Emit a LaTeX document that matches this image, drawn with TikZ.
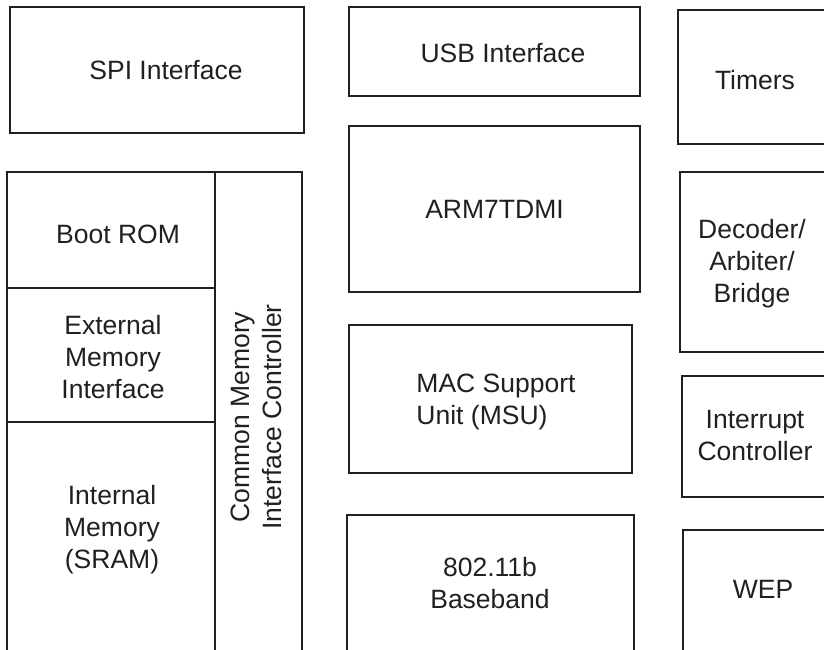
\documentclass[tikz,border=0pt]{standalone}
\usepackage{fontspec}
\setmainfont{Liberation Sans}
\definecolor{ink}{HTML}{231F20}
\tikzstyle{blk}=[draw=ink, line width=2.5pt, rectangle, inner sep=0pt]
\tikzstyle{txt}=[text=ink, align=center, inner sep=0pt, font=\fontsize{26.5}{32}\selectfont]

\begin{document}
\begin{tikzpicture}[x=1pt, y=-1pt]
    \useasboundingbox (0,0) rectangle (824,649);
    \clip (0,0) rectangle (824,649);
    % boxes
    \node   [blk, minimum width=294, minimum height=126]    (spi)  at (157,70)     {};
    \node   [blk, minimum width=291, minimum height=89]     (usb)  at (494.5,51.5) {};
    \node   [blk, minimum width=182, minimum height=134]    (tim)  at (769,77)     {};
    \node   [blk, minimum width=291, minimum height=166]    (arm)  at (494.5,209)  {};
    \node   [blk, minimum width=283, minimum height=148]    (msu)  at (490.5,399)  {};
    \node   [blk, minimum width=287, minimum height=185]    (bb)   at (490.5,607.5) {};
    \node   [blk, minimum width=208, minimum height=116]    (rom)  at (111,230)    {};
    \node   [blk, minimum width=208, minimum height=134]    (emi)  at (111,355)    {};
    \node   [blk, minimum width=208, minimum height=278]    (sram) at (111,561)    {};
    \node   [blk, minimum width=87,  minimum height=528]    (cmic) at (258.5,436)  {};
    \node   [blk, minimum width=180, minimum height=180]    (dab)  at (770,262)    {};
    \node   [blk, minimum width=178, minimum height=121]    (irq)  at (771,436.5)  {};
    \node   [blk, minimum width=177, minimum height=170]    (wep)  at (771.5,615)  {};
    % labels
    \node   [txt]   at ([xshift=9]spi.center)       {SPI Interface};
    \node   [txt]   at ([xshift=8.5,yshift=-1.5]usb.center) {USB Interface};
    \node   [txt]   at (755,80)                     {Timers};
    \node   [txt]   at (arm.center)                 {ARM7TDMI};
    \node   [txt]   at (118,234)                    {Boot ROM};
    \node   [txt]   at (113,357)                    {External\\Memory\\Interface};
    \node   [txt]   at (112,530)                    {Internal\\Memory\\(SRAM)};
    \node   [txt, rotate=90] at (256,417)           {Common Memory\\Interface Controller};
    \node   [txt, align=left] at (496,402)          {MAC Support\\Unit (MSU)};
    \node   [txt]   at (490,583)                    {802.11b\\Baseband};
    \node   [txt]   at (752,264)                    {Decoder/\\Arbiter/\\Bridge};
    \node   [txt]   at (755,436)                    {Interrupt\\Controller};
    \node   [txt]   at (763,589)                    {WEP};
\end{tikzpicture}
\end{document}
